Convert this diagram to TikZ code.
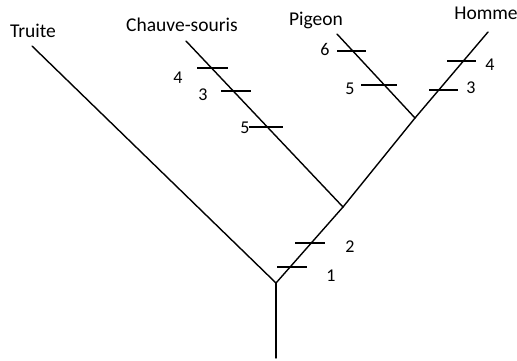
\documentclass[tikz,border=0pt]{standalone}
\usepackage{fontspec}
\setmainfont{Carlito}
\begin{document}
\begin{tikzpicture}[x=1pt,y=-1pt,
  branch/.style={line width=1.4pt,line cap=round},
  tick/.style={line width=1.3pt},
  taxon/.style={anchor=base,inner sep=0pt,font=\fontsize{19.5}{22}\selectfont},
  num/.style={inner sep=0pt,font=\fontsize{18}{21}\selectfont}]
\useasboundingbox (0,0) rectangle (517,360);
% junctions and leaves
\coordinate (base) at (276,358);
\coordinate (root) at (276,283);
\coordinate (n1) at (343,207);
\coordinate (n2) at (415,118);
\coordinate (truite) at (32,46);
\coordinate (chauve) at (186,41);
\coordinate (pigeon) at (337,34);
\coordinate (homme) at (488,32);
% branches
\draw[branch] (base) -- (root);
\draw[branch] (root) -- (truite);
\draw[branch] (root) -- (n1);
\draw[branch] (n1) -- (chauve);
\draw[branch] (n1) -- (n2);
\draw[branch] (n2) -- (pigeon);
\draw[branch] (n2) -- (homme);
% taxa
\node[taxon] (tT) at (33,37) {Truite};
\node[taxon] (tC) at (182,31) {Chauve-souris};
\node[taxon] (tP) at (316,25) {Pigeon};
\node[taxon] (tH) at (486,19) {Homme};
% ticks
\draw[tick] (277,267) -- (307,267);
\draw[tick] (295,243) -- (325,243);
\draw[tick] (197,68) -- (228,68);
\draw[tick] (221,91) -- (251,91);
\draw[tick] (249,127) -- (283,127);
\draw[tick] (337,51) -- (366,51);
\draw[tick] (361,85) -- (397,85);
\draw[tick] (447,61) -- (476,61);
\draw[tick] (429,90) -- (458,90);
% numbers
\node[num] (l1) at (331,276) {1};
\node[num] (l2) at (350,247) {2};
\node[num] (c4) at (178,78) {4};
\node[num] (c3) at (203,95) {3};
\node[num] (c5) at (245,128) {5};
\node[num] (p6) at (325,49) {6};
\node[num] (p5) at (350,89) {5};
\node[num] (h4) at (490,65) {4};
\node[num] (h3) at (471,88) {3};
\end{tikzpicture}
\end{document}
